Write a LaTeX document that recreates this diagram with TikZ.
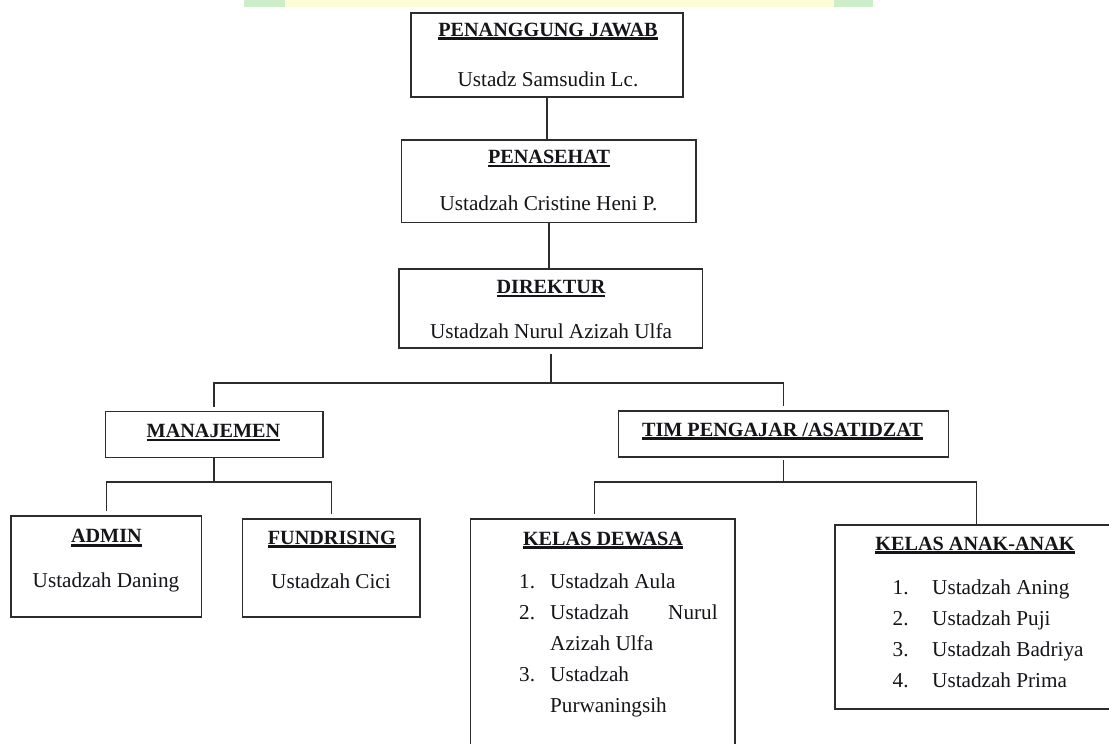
\documentclass[tikz,border=0pt]{standalone}
\usepackage{fontspec}
\setmainfont{Liberation Serif}
\definecolor{boxc}{RGB}{45,45,45}
\definecolor{txtc}{RGB}{20,20,25}
\definecolor{bandy}{RGB}{252,253,214}
\definecolor{bandg}{RGB}{204,238,200}
\newsavebox\ttlbox
\newcommand\ttl[1]{\sbox\ttlbox{\fontsize{20.2}{24}\selectfont\bfseries #1}\rlap{\rule[-3.8pt]{\wd\ttlbox}{2.4pt}}\usebox\ttlbox}
\begin{document}
\begin{tikzpicture}[x=1pt,y=-1pt,
  box/.style={draw=boxc, line width=1.5pt, inner sep=0pt},
  conn/.style={draw=boxc, line width=1.5pt},
  ttlnode/.style={anchor=base, inner sep=0pt, text=txtc},
  namenode/.style={anchor=base, inner sep=0pt, text=txtc, font=\fontsize{21.2}{25}\selectfont},
  item/.style={anchor=base west, inner sep=0pt, text=txtc, font=\fontsize{21.2}{25}\selectfont}]
\useasboundingbox (0,0) rectangle (1109,744);
\clip (0,0) rectangle (1109,744);
\fill[white] (0,0) rectangle (1109,744);
% top band
\fill[bandy] (244,0) rectangle (873,7);
\fill[bandg] (244,0) rectangle (285,7);
\fill[bandg] (834,0) rectangle (873,7);

% boxes and texts
\node[box, minimum width=272pt, minimum height=84pt] (pj) at (547,55) {};
\node[ttlnode] (pjt) at (548,36) {\ttl{PENANGGUNG JAWAB}};
\node[namenode] (pjn) at (548,86) {Ustadz Samsudin Lc.};

\node[box, minimum width=294.3pt, minimum height=82.7pt] (pen) at (548.85,181.35) {};
\node[ttlnode] (pent) at (549,163.3) {\ttl{PENASEHAT}};
\node[namenode] (penn) at (548.5,210) {Ustadzah Cristine Heni P.};

\node[box, minimum width=303.7pt, minimum height=79pt] (dir) at (550.85,308.5) {};
\node[ttlnode] (dirt) at (551,293.3) {\ttl{DIREKTUR}};
\node[namenode] (dirn) at (551,338.3) {Ustadzah Nurul Azizah Ulfa};

\node[box, minimum width=217.6pt, minimum height=46pt] (man) at (214.2,434.7) {};
\node[ttlnode] (mant) at (213.5,437.3) {\ttl{MANAJEMEN}};

\node[box, minimum width=329.7pt, minimum height=46pt] (tim) at (783.55,434) {};
\node[ttlnode] (timt) at (782.5,436) {\ttl{TIM PENGAJAR /ASATIDZAT}};

\node[box, minimum width=190.7pt, minimum height=101pt] (adm) at (106.35,566.5) {};
\node[ttlnode] (admt) at (106.4,542.7) {\ttl{ADMIN}};
\node[namenode] (admn) at (106,587.3) {Ustadzah Daning};

\node[box, minimum width=177.3pt, minimum height=98pt] (fund) at (331.35,568) {};
\node[ttlnode] (fundt) at (331.8,544) {\ttl{FUNDRISING}};
\node[namenode] (fundn) at (331,588.3) {Ustadzah Cici};

\node[box, minimum width=264.9pt, minimum height=251pt] (dew) at (602.75,644.5) {};
\node[ttlnode] (dewt) at (603,545) {\ttl{KELAS DEWASA}};
\node[item] (d1n) at (519,588.3) {1.};
\node[item] (d1) at (550,588.3) {Ustadzah Aula};
\node[item] (d2n) at (519,619.3) {2.};
\node[item] (d2) at (550,619.3) {\hbox to 167.5pt{Ustadzah\hfill Nurul}};
\node[item] (d2b) at (550,650.3) {Azizah Ulfa};
\node[item] (d3n) at (519,681.3) {3.};
\node[item] (d3) at (550,681.3) {Ustadzah};
\node[item] (d3b) at (550,712.3) {Purwaningsih};

\node[box, minimum width=277pt, minimum height=184pt] (anak) at (973.5,617) {};
\node[ttlnode] (anakt) at (975,550) {\ttl{KELAS ANAK-ANAK}};
\node[item] (a1n) at (892.5,594) {1.};
\node[item] (a1) at (932,594) {Ustadzah Aning};
\node[item] (a2n) at (892.5,625) {2.};
\node[item] (a2) at (932,625) {Ustadzah Puji};
\node[item] (a3n) at (892.5,656) {3.};
\node[item] (a3) at (932,656) {Ustadzah Badriya};
\node[item] (a4n) at (892.5,687) {4.};
\node[item] (a4) at (932,687) {Ustadzah Prima};

% connectors
\coordinate (b1) at (552,383);
\coordinate (b2) at (215,482);
\coordinate (b3) at (785,482);
\draw[conn] (pj.south) -- (pj.south |- pen.north);
\draw[conn] (pen.south) -- (pen.south |- dir.north);
\draw[conn] ([yshift=-5pt]dir.south) -- (dir.south |- b1);
\draw[conn] ([yshift=4pt]man.north) |- (b1) -| ([yshift=4pt]tim.north);
\draw[conn] (man.south) -- (man.south |- b2);
\draw[conn] ([yshift=4pt]adm.north) |- (b2) -| ([yshift=4pt]fund.north);
\draw[conn] ([yshift=-2pt]tim.south) -- (tim.south |- b3);
\draw[conn] ([xshift=-8.25pt,yshift=4pt]dew.north) |- (b3) -| ([xshift=3pt]anak.north);
\end{tikzpicture}
\end{document}
